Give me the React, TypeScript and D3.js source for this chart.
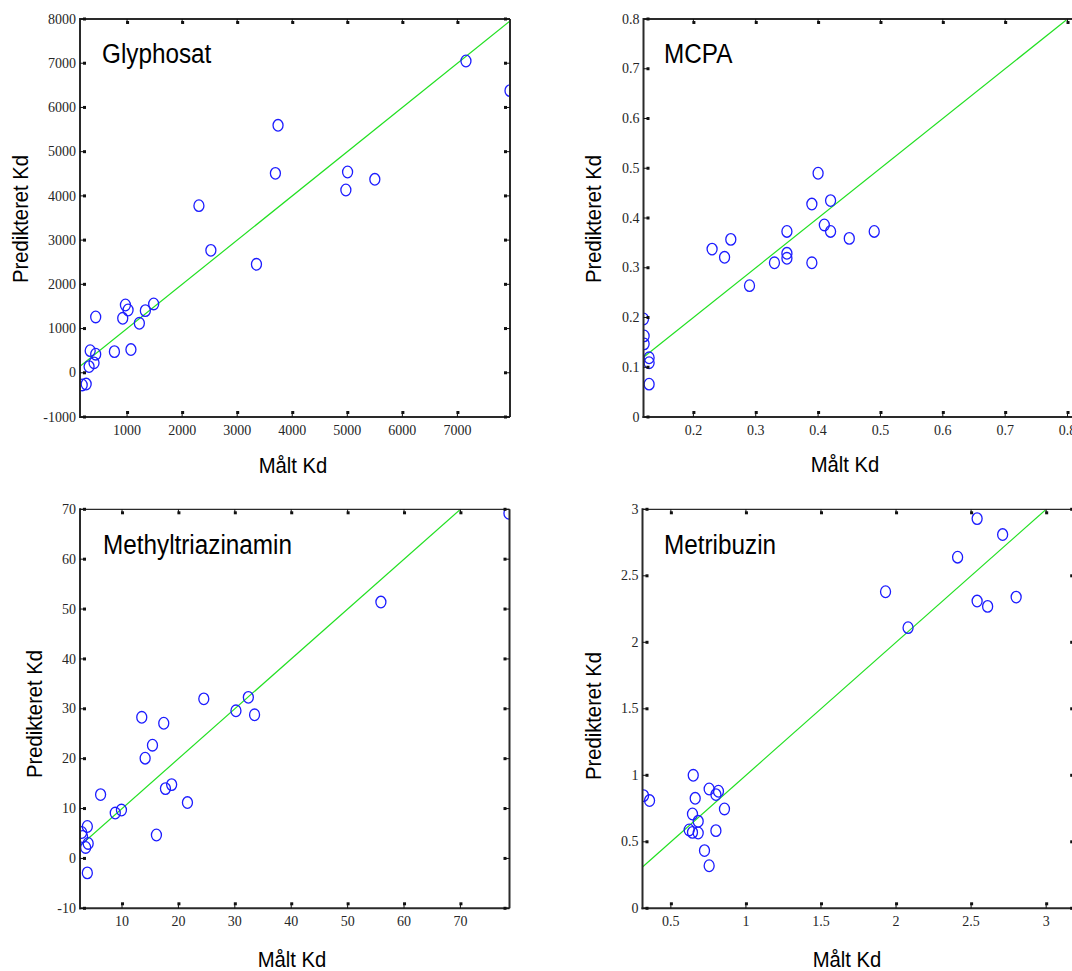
import React from "react";
import * as d3 from "d3";

// ---------- Data ----------
const glyMeasured = [7155, 7955, 3742, 3694, 5005, 4974, 5500, 2305, 2522, 3350, 1483, 970, 1018, 1332, 921, 1223, 430, 770, 1070, 330, 430, 400, 310, 257, 185];
const glyPredicted = [7050, 6380, 5596, 4510, 4540, 4133, 4375, 3779, 2769, 2453, 1556, 1533, 1420, 1405, 1232, 1119, 1262, 478, 525, 500, 420, 225, 140, -255, -275];
const glyXTicks = [1000, 2000, 3000, 4000, 5000, 6000, 7000];
const glyYTicks = [-1000, 0, 1000, 2000, 3000, 4000, 5000, 6000, 7000, 8000];

const mcpaMeasured = [0.40, 0.39, 0.42, 0.41, 0.42, 0.35, 0.45, 0.49, 0.23, 0.26, 0.25, 0.33, 0.35, 0.35, 0.39, 0.29, 0.12, 0.121, 0.121, 0.129, 0.129, 0.129];
const mcpaPredicted = [0.49, 0.428, 0.435, 0.386, 0.373, 0.373, 0.359, 0.373, 0.3375, 0.357, 0.321, 0.31, 0.329, 0.319, 0.31, 0.264, 0.197, 0.163, 0.147, 0.119, 0.109, 0.066];
const mcpaXTicks = [0.2, 0.3, 0.4, 0.5, 0.6, 0.7, 0.8];
const mcpaYTicks = [0, 0.1, 0.2, 0.3, 0.4, 0.5, 0.6, 0.7, 0.8];

const metMeasured = [78.6, 55.9, 24.5, 32.4, 30.2, 33.5, 13.5, 17.4, 15.4, 14.1, 17.7, 18.8, 21.6, 6.2, 8.8, 9.9, 16.1, 3.85, 2.85, 3.0, 4.0, 3.55, 3.85];
const metPredicted = [69.2, 51.4, 32.0, 32.3, 29.6, 28.8, 28.3, 27.1, 22.7, 20.1, 14.0, 14.8, 11.2, 12.8, 9.1, 9.7, 4.7, 6.4, 5.2, 4.4, 3.0, 2.2, -2.9];
const metXTicks = [10, 20, 30, 40, 50, 60, 70];
const metYTicks = [-10, 0, 10, 20, 30, 40, 50, 60, 70];

const mtbMeasured = [2.54, 2.71, 2.41, 1.93, 2.54, 2.61, 2.80, 2.08, 0.649, 0.755, 0.817, 0.80, 0.662, 0.857, 0.644, 0.682, 0.622, 0.644, 0.682, 0.80, 0.724, 0.755, 0.318, 0.358];
const mtbPredicted = [2.93, 2.81, 2.64, 2.38, 2.31, 2.27, 2.34, 2.11, 1.0, 0.897, 0.88, 0.855, 0.827, 0.747, 0.709, 0.654, 0.589, 0.571, 0.566, 0.584, 0.434, 0.32, 0.847, 0.81];
const mtbXTicks = [0.5, 1, 1.5, 2, 2.5, 3];
const mtbYTicks = [0, 0.5, 1, 1.5, 2, 2.5, 3];

const xLabel = "Målt Kd";
const yLabel = "Predikteret Kd";

// ---------- Layout ----------
type Panel = {
  id: string;
  title: string;
  measured: number[];
  predicted: number[];
  xTicks: number[];
  yTicks: number[];
  xDomain: [number, number];
  yDomain: [number, number];
  lineEnd: number;
  left: number;
  right: number;
  top: number;
  bottom: number;
  topWidth: number;
  titlePos: [number, number];
  yLabelPos: [number, number];
  xLabelPos: [number, number];
};

const panels: Panel[] = [
  {
    id: "gly", title: "Glyphosat", measured: glyMeasured, predicted: glyPredicted,
    xTicks: glyXTicks, yTicks: glyYTicks, xDomain: [145, 7955], yDomain: [-1000, 8000], lineEnd: 8000,
    left: 80, right: 510, top: 19, bottom: 417, topWidth: 2,
    titlePos: [102, 62.5], yLabelPos: [28, 219], xLabelPos: [293, 472.5],
  },
  {
    id: "mcpa", title: "MCPA", measured: mcpaMeasured, predicted: mcpaPredicted,
    xTicks: mcpaXTicks, yTicks: mcpaYTicks, xDomain: [0.12, 0.82], yDomain: [0, 0.8], lineEnd: 0.8,
    left: 643.5, right: 1080, top: 19, bottom: 417, topWidth: 2,
    titlePos: [664, 62.5], yLabelPos: [601, 219], xLabelPos: [845, 472],
  },
  {
    id: "met", title: "Methyltriazinamin", measured: metMeasured, predicted: metPredicted,
    xTicks: metXTicks, yTicks: metYTicks, xDomain: [2.55, 78.7], yDomain: [-10, 70], lineEnd: 70,
    left: 80, right: 509.5, top: 509.3, bottom: 908.3, topWidth: 1.2,
    titlePos: [103, 553.5], yLabelPos: [42, 714], xLabelPos: [292, 967],
  },
  {
    id: "mtb", title: "Metribuzin", measured: mtbMeasured, predicted: mtbPredicted,
    xTicks: mtbXTicks, yTicks: mtbYTicks, xDomain: [0.311, 3.2], yDomain: [0, 3], lineEnd: 3,
    left: 642.5, right: 1076.2, top: 509.3, bottom: 908.3, topWidth: 1.2,
    titlePos: [664, 553.5], yLabelPos: [601, 716], xLabelPos: [847, 967],
  },
];

const SANS = "'Liberation Sans', Arial, sans-serif";
const SERIF = "'Liberation Serif', 'Times New Roman', serif";
const FRAME = "#2a2a2a";
const NARROW = 0.9;

function PanelView({ p }: { p: Panel }) {
  const x = d3.scaleLinear().domain(p.xDomain).range([p.left, p.right]);
  const y = d3.scaleLinear().domain(p.yDomain).range([p.bottom, p.top]);
  const clipId = `clip-${p.id}`;
  const line = d3.line<number>().x((v) => x(v)).y((v) => y(v));
  const diag = line([p.xDomain[0], p.lineEnd]) || "";

  return (
    <g>
      <defs>
        <clipPath id={clipId}>
          <rect x={p.left} y={p.top} width={p.right - p.left} height={p.bottom - p.top} />
        </clipPath>
      </defs>
      <g clipPath={`url(#${clipId})`}>
        <path d={diag} fill="none" stroke="#22e022" strokeWidth={1.2} />
        {p.measured.map((m, i) => (
          <ellipse key={i} cx={x(m)} cy={y(p.predicted[i])} rx={5} ry={5.8}
            fill="none" stroke="#1c1cff" strokeWidth={1.3} />
        ))}
      </g>

      {/* frame */}
      <line x1={p.left} x2={p.right} y1={p.top} y2={p.top} stroke={FRAME} strokeWidth={p.topWidth} />
      <line x1={p.right} x2={p.right} y1={p.top} y2={p.bottom} stroke={FRAME} strokeWidth={2} />
      <line x1={p.left} x2={p.left} y1={p.top - 1} y2={p.bottom + 1} stroke={FRAME} strokeWidth={2} />
      <line x1={p.left - 1} x2={p.right} y1={p.bottom} y2={p.bottom} stroke={FRAME} strokeWidth={2} />

      {/* y ticks */}
      {p.yTicks.map((t) => {
        const yy = y(t);
        return (
          <g key={`y${t}`}>
            <line x1={p.left} x2={p.left + 4} y1={yy} y2={yy} stroke="#111" strokeWidth={1} />
            <rect x={p.left + 3} y={yy - 1.5} width={3} height={3} fill="#111" />
            <line x1={p.right} x2={p.right - 4} y1={yy} y2={yy} stroke="#111" strokeWidth={1} />
            <rect x={p.right - 6} y={yy - 1.5} width={3} height={3} fill="#111" />
            <text x={p.left - 4} y={yy} dy="0.33em" textAnchor="end" fontFamily={SERIF} fontSize={14} fill="#262626">
              {String(t)}
            </text>
          </g>
        );
      })}

      {/* x ticks */}
      {p.xTicks.map((t) => {
        const xx = x(t);
        return (
          <g key={`x${t}`}>
            <line x1={xx} x2={xx} y1={p.bottom} y2={p.bottom - 4} stroke="#111" strokeWidth={1} />
            <rect x={xx - 1} y={p.bottom - 6} width={3} height={3} fill="#111" />
            <line x1={xx} x2={xx} y1={p.top} y2={p.top + 4} stroke="#111" strokeWidth={1} />
            <rect x={xx - 1} y={p.top + 2} width={3} height={3} fill="#111" />
            <text x={xx} y={p.bottom + 18} textAnchor="middle" fontFamily={SERIF} fontSize={14} fill="#262626">
              {String(t)}
            </text>
          </g>
        );
      })}

      <text transform={`translate(${p.titlePos[0]},${p.titlePos[1]}) scale(${NARROW},1)`}
        fontFamily={SANS} fontSize={27} fill="#000">
        {p.title}
      </text>
      <text transform={`translate(${p.xLabelPos[0]},${p.xLabelPos[1]}) scale(${NARROW},1)`}
        textAnchor="middle" fontFamily={SANS} fontSize={22.5} fill="#000">
        {xLabel}
      </text>
      <text transform={`translate(${p.yLabelPos[0]},${p.yLabelPos[1]}) rotate(-90) scale(${NARROW},1)`}
        textAnchor="middle" fontFamily={SANS} fontSize={22.5} fill="#000">
        {yLabel}
      </text>
    </g>
  );
}

export default function App() {
  return (
    <svg width={1072} height={971} viewBox="0 0 1072 971"
      style={{ position: "absolute", left: 0, top: 0, background: "#fff", display: "block" }}>
      <rect x={0} y={0} width={1072} height={971} fill="#fff" />
      {panels.map((p) => (
        <PanelView key={p.id} p={p} />
      ))}
    </svg>
  );
}
